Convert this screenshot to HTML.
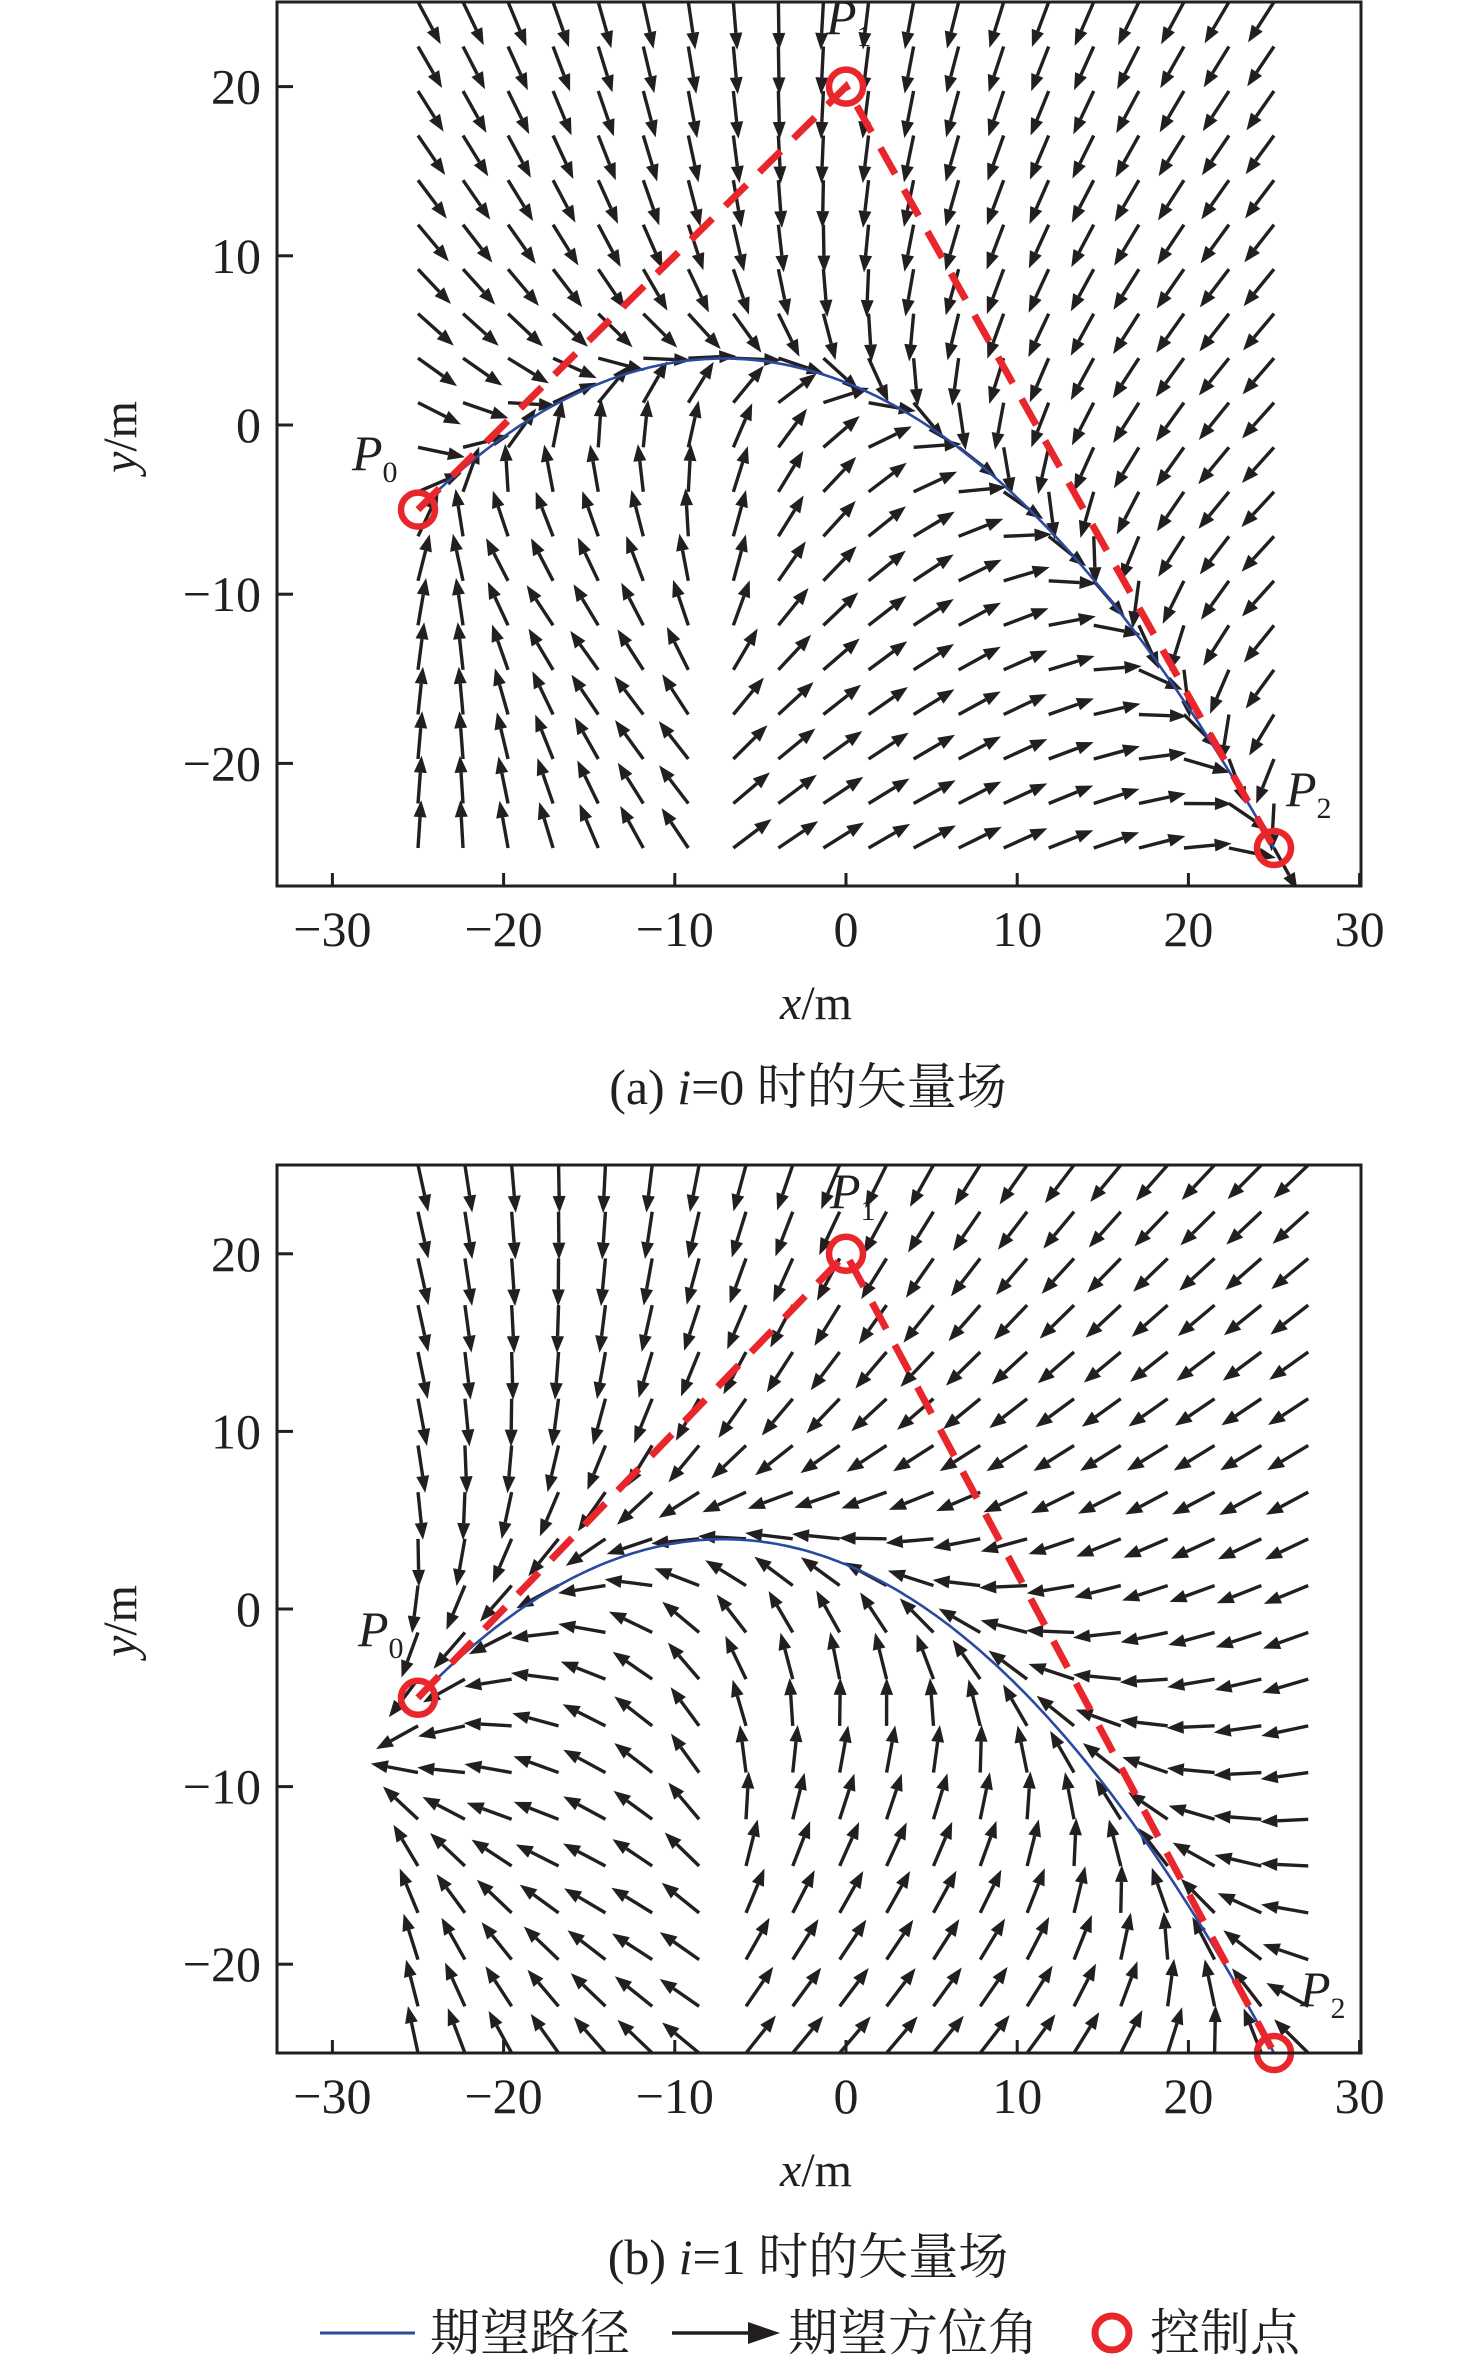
<!DOCTYPE html>
<html><head><meta charset="utf-8"><style>
html,body{margin:0;padding:0;background:#fff;}
svg{display:block;}
text{font-family:"Liberation Serif","Noto Serif CJK SC","Noto Sans CJK SC",serif;fill:#231f20;}
</style></head><body>
<svg id="fig" width="1476" height="2360" viewBox="0 0 1476 2360" xmlns="http://www.w3.org/2000/svg">
<defs>
<clipPath id="clipA"><rect x="277" y="2" width="1084" height="884"/></clipPath>
<clipPath id="clipB"><rect x="277" y="1165" width="1084" height="888"/></clipPath>
</defs>
<g id="panelA"></g>
<g id="panelB"></g>
<text x="808" y="1104" font-size="50" text-anchor="middle">(a) <tspan font-style="italic">i</tspan>=0 时的矢量场</text>
<text x="808" y="2274" font-size="50" text-anchor="middle">(b) <tspan font-style="italic">i</tspan>=1 时的矢量场</text>
<g>
<line x1="320" y1="2333" x2="415" y2="2333" stroke="#2a4aa0" stroke-width="3"/>
<text x="430" y="2350" font-size="50">期望路径</text>
<line x1="672" y1="2333" x2="750" y2="2333" stroke="#231f20" stroke-width="3.5"/>
<polygon points="780,2333 748,2322 748,2344" fill="#231f20"/>
<text x="788" y="2350" font-size="50">期望方位角</text>
<circle cx="1112" cy="2333" r="17" fill="none" stroke="#e8262b" stroke-width="7"/>
<text x="1150" y="2350" font-size="50">控制点</text>
</g>
</svg>
<script>
// control points (m)
const ctrlX = [-25, 0, 25];
const ctrlY = [-5, 20, -25];
const ctrlLabels = ['P0', 'P1', 'P2'];
// field settings per panel (i=0: +tangent, i=1: -tangent)
const panelIndex = [0, 1];
const tangentSign = [1, -1];
const convergeGain = [0.5, 0.2];
// grid of arrow tails
const gridXA = [-25,-22.37,-19.74,-17.11,-14.47,-11.84,-9.21,-6.58,-3.95,-1.32,1.32,3.95,6.58,9.21,11.84,14.47,17.11,19.74,22.37,25];
const gridXB = [-25,-22.26,-19.53,-16.79,-14.05,-11.32,-8.58,-5.84,-3.11,-0.37,2.37,5.11,7.84,10.58,13.32,16.05,18.79,21.53,24.26,27];
const gridYA = [-25,-22.37,-19.74,-17.11,-14.47,-11.84,-9.21,-6.58,-3.95,-1.32,1.32,3.95,6.58,9.21,11.84,14.47,17.11,19.74,22.37,25];
const gridYB = [-25,-22.37,-19.74,-17.11,-14.47,-11.84,-9.21,-6.58,-3.95,-1.32,1.32,3.95,6.58,9.21,11.84,14.47,17.11,19.74,22.37,25];
const xTicks = [-30, -20, -10, 0, 10, 20, 30];
const yTicks = [-20, -10, 0, 10, 20];

const NS = 'http://www.w3.org/2000/svg';
function mk(tag, attrs, parent) {
  const e = document.createElementNS(NS, tag);
  for (const k in attrs) e.setAttribute(k, attrs[k]);
  parent.appendChild(e);
  return e;
}
function bez(t) {
  const a = (1 - t) * (1 - t), b = 2 * t * (1 - t), c = t * t;
  return [a * ctrlX[0] + b * ctrlX[1] + c * ctrlX[2], a * ctrlY[0] + b * ctrlY[1] + c * ctrlY[2]];
}
function bezD(t) {
  return [2 * (1 - t) * (ctrlX[1] - ctrlX[0]) + 2 * t * (ctrlX[2] - ctrlX[1]),
          2 * (1 - t) * (ctrlY[1] - ctrlY[0]) + 2 * t * (ctrlY[2] - ctrlY[1])];
}
function fieldDir(x, y, s, kk) {
  let best = 1e9, bt = 0;
  for (let k = 0; k <= 400; k++) {
    const t = k / 400, p = bez(t);
    const d = (p[0] - x) ** 2 + (p[1] - y) ** 2;
    if (d < best) { best = d; bt = t; }
  }
  const p = bez(bt), dv = bezD(bt);
  const dl = Math.hypot(dv[0], dv[1]) || 1;
  const vx = kk * (p[0] - x) + s * dv[0] / dl;
  const vy = kk * (p[1] - y) + s * dv[1] / dl;
  const l = Math.hypot(vx, vy) || 1;
  return [vx / l, vy / l];
}

const panels = [
  {g: document.getElementById('panelA'), clip: 'clipA', top: 2, bottom: 886, y0: 425, sy: 16.92, gx: gridXA, gy: gridYA,
   labels: [[352, 470], [826, 34], [1286, 806]]},
  {g: document.getElementById('panelB'), clip: 'clipB', top: 1165, bottom: 2053, y0: 1609, sy: 17.76, gx: gridXB, gy: gridYB,
   labels: [[358, 1646], [830, 1208], [1300, 2006]]}
];
const X = v => 846 + 17.12 * v;
const L = 277, R = 1361;

panels.forEach((P, pi) => {
  const Y = v => P.y0 - P.sy * v;
  const g = P.g;
  const s = tangentSign[pi];
  const kk = convergeGain[pi];
  const ag = mk('g', {'clip-path': 'url(#' + P.clip + ')'}, g);
  
  
  P.gx.forEach(gx => {
    P.gy.forEach(gy => {
      const d = fieldDir(gx, gy, s, kk);
      const x1 = X(gx), y1 = Y(gy);
      const len = 48, hl = 17, hw = 6.5;
      const ux = d[0], uy = -d[1];
      const x2 = x1 + ux * len, y2 = y1 + uy * len;
      const bx = x2 - ux * hl, by = y2 - uy * hl;
      const a = mk('g', {}, ag);
      
      
      mk('line', {x1: x1, y1: y1, x2: bx, y2: by, stroke: '#231f20', 'stroke-width': 3.4}, a);
      mk('polygon', {points: `${x2},${y2} ${bx - uy * hw},${by + ux * hw} ${bx + uy * hw},${by - ux * hw}`, fill: '#231f20'}, a);
    });
  });
  let dpath = '';
  for (let k = 0; k <= 200; k++) {
    const p = bez(k / 200);
    dpath += (k ? 'L' : 'M') + X(p[0]).toFixed(1) + ',' + Y(p[1]).toFixed(1);
  }
  const cp = mk('path', {d: dpath, fill: 'none', stroke: '#2a4aa0', 'stroke-width': 2.6}, g);
  
  
  const pts = ctrlX.map((cx, i) => X(cx) + ',' + Y(ctrlY[i])).join(' ');
  const pl = mk('polyline', {points: pts, fill: 'none', stroke: '#e8262b', 'stroke-width': 7, 'stroke-dasharray': '30 18'}, g);
  
  
  ctrlX.forEach((cx, i) => {
    const c = mk('circle', {cx: X(cx), cy: Y(ctrlY[i]), r: 17, fill: 'none', stroke: '#e8262b', 'stroke-width': 6.5}, g);
    
    
    const t = mk('text', {x: P.labels[i][0], y: P.labels[i][1], 'font-size': 50, 'font-style': 'italic'}, g);
    
    
    t.textContent = 'P';
    const sub = mk('tspan', {'font-size': 30, 'font-style': 'normal', dy: 12}, t);
    sub.textContent = String(i);
  });
  const box = mk('rect', {x: L, y: P.top, width: R - L, height: P.bottom - P.top, fill: 'none', stroke: '#231f20', 'stroke-width': 3}, g);
  
  
  xTicks.forEach(v => {
    const tk = mk('line', {x1: X(v), y1: P.bottom, x2: X(v), y2: P.bottom - 13, stroke: '#231f20', 'stroke-width': 3}, g);
    
    
    const tl = mk('text', {x: X(v), y: P.bottom + 60, 'font-size': 50, 'text-anchor': 'middle'}, g);
    
    
    tl.textContent = v < 0 ? '\u2212' + (-v) : String(v);
  });
  yTicks.forEach(v => {
    const tk = mk('line', {x1: L, y1: Y(v), x2: L + 16, y2: Y(v), stroke: '#231f20', 'stroke-width': 3}, g);
    
    
    const tl = mk('text', {x: L - 16, y: Y(v) + 17, 'font-size': 50, 'text-anchor': 'end'}, g);
    
    
    tl.textContent = v < 0 ? '\u2212' + (-v) : String(v);
  });
  const xt = mk('text', {x: 816, y: P.bottom + 133, 'font-size': 48, 'text-anchor': 'middle'}, g);
  
  
  xt.innerHTML = '<tspan font-style="italic">x</tspan>/m';
  const ym = Y(0) + 12;
  const yt = mk('text', {x: 0, y: 0, 'font-size': 48, 'text-anchor': 'middle', transform: `translate(136,${ym}) rotate(-90)`}, g);
  
  
  yt.innerHTML = '<tspan font-style="italic">y</tspan>/m';
});
</script>
</body></html>
